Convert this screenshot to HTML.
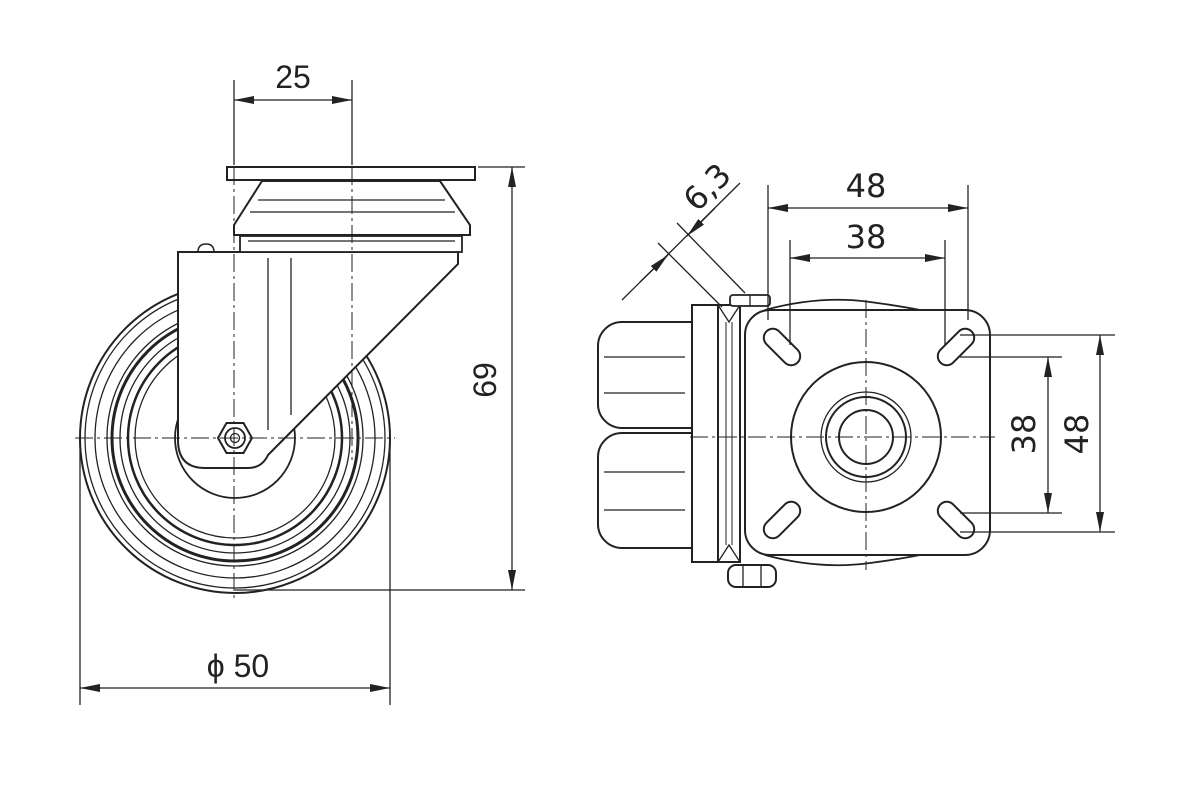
<!DOCTYPE html>
<html><head><meta charset="utf-8"><style>
html,body{margin:0;padding:0;background:#fff;width:1200px;height:800px;overflow:hidden}
svg text{font-family:"DejaVu Sans","Liberation Sans",sans-serif;font-size:32px;fill:#222}
</style></head><body>
<svg width="1200" height="800" viewBox="0 0 1200 800" xmlns="http://www.w3.org/2000/svg">
<defs>
<marker id="a" viewBox="0 0 20 8" refX="20" refY="4" markerWidth="20" markerHeight="8" markerUnits="userSpaceOnUse" orient="auto-start-reverse"><path d="M0,0 L20,4 L0,8 Z" fill="#222"/></marker>
</defs>
<g fill="none" stroke="#222" stroke-width="1.3">
<g stroke-width="2">
<circle cx="235" cy="438" r="155"/>
<circle cx="235" cy="438" r="123" stroke-width="3"/>
<circle cx="235" cy="438" r="107" stroke-width="2.5"/>
</g>
<circle cx="235" cy="438" r="150"/>
<circle cx="235" cy="438" r="140"/>
<circle cx="235" cy="438" r="128"/>
<circle cx="235" cy="438" r="115"/>
<circle cx="235" cy="438" r="100"/>
<circle cx="235" cy="438" r="60" stroke-width="1.8"/>
<path d="M178,252 L458,252 L458,264 L268,455 Q262,468 248,468 L205,468 Q178,468 178,440 Z" fill="#fff" stroke-width="2"/>
<path d="M198,252 q0,-8 8,-8 q8,0 8,8" stroke-width="1.5"/>
<line x1="268" y1="258" x2="268" y2="430"/>
<line x1="291" y1="258" x2="291" y2="415"/>
<rect x="227" y="167" width="248" height="13" fill="#fff" stroke-width="2"/>
<path d="M262,181 L440,181 L470,225 L470,235 L234,235 L234,225 Z" fill="#fff" stroke-width="2"/>
<line x1="258" y1="200" x2="445" y2="200"/>
<line x1="250" y1="212" x2="455" y2="212"/>
<rect x="240" y="236" width="222" height="16" fill="#fff" stroke-width="1.8"/>
<line x1="248" y1="241" x2="455" y2="241"/>
<polygon points="218,438 226.5,423 243.5,423 252,438 243.5,453 226.5,453" fill="#fff" stroke-width="2"/>
<circle cx="235" cy="438" r="10" stroke-width="1.8"/>
<circle cx="235" cy="438" r="4.5"/>
<g stroke-dasharray="18,4,3,4" stroke-width="1">
<line x1="234" y1="80" x2="234" y2="600"/>
<line x1="352" y1="80" x2="352" y2="460"/>
<line x1="75" y1="438" x2="395" y2="438"/>
</g>
<line x1="234" y1="80" x2="234" y2="165"/>
<line x1="352" y1="80" x2="352" y2="165"/>
<line x1="234" y1="100" x2="352" y2="100" marker-start="url(#a)" marker-end="url(#a)"/>
<line x1="478" y1="167" x2="525" y2="167"/>
<line x1="235" y1="590" x2="525" y2="590"/>
<line x1="512" y1="167" x2="512" y2="590" marker-start="url(#a)" marker-end="url(#a)"/>
<line x1="80" y1="440" x2="80" y2="705"/>
<line x1="390" y1="440" x2="390" y2="705"/>
<line x1="80" y1="688" x2="390" y2="688" marker-start="url(#a)" marker-end="url(#a)"/>

<path d="M765,310 Q820,295 870,302 Q900,306 920,310" stroke-width="1.8"/>
<path d="M765,555 Q820,570 870,563 Q900,559 920,555" stroke-width="1.8"/>
<rect x="745" y="310" width="245" height="245" rx="25" fill="#fff" stroke-width="2"/>
<rect x="598" y="322" width="120" height="106" rx="24" stroke-width="2"/>
<rect x="598" y="433" width="120" height="115" rx="24" stroke-width="2"/>
<g stroke-width="1.3">
<line x1="604" y1="357" x2="685" y2="357"/><line x1="604" y1="393" x2="685" y2="393"/>
<line x1="604" y1="472" x2="685" y2="472"/><line x1="604" y1="510" x2="685" y2="510"/>
</g>
<rect x="692" y="305" width="26" height="257" fill="#fff" stroke-width="2"/>
<rect x="718" y="305" width="22" height="257" fill="#fff" stroke-width="2"/>
<line x1="726" y1="322" x2="726" y2="545" stroke-width="1"/>
<line x1="732" y1="322" x2="732" y2="545" stroke-width="1"/>
<path d="M718,305 L729,322 L740,305 M718,562 L729,545 L740,562"/>
<rect x="730" y="295" width="40" height="11" rx="3" fill="#fff" stroke-width="1.8"/>
<line x1="750" y1="295" x2="750" y2="306"/>
<rect x="728" y="565" width="48" height="22" rx="8" fill="#fff" stroke-width="2"/>
<line x1="743" y1="565" x2="743" y2="587"/><line x1="761" y1="565" x2="761" y2="587"/>
<g stroke-width="2" fill="#fff">
<rect x="760" y="338" width="44" height="18" rx="9" transform="rotate(45 782 347)"/>
<rect x="934" y="338" width="44" height="18" rx="9" transform="rotate(-45 956 347)"/>
<rect x="760" y="511" width="44" height="18" rx="9" transform="rotate(-45 782 520)"/>
<rect x="934" y="511" width="44" height="18" rx="9" transform="rotate(45 956 520)"/>
</g>
<circle cx="866" cy="437" r="75" stroke-width="2"/>
<circle cx="866" cy="437" r="45"/>
<circle cx="866" cy="437" r="40" stroke-width="2"/>
<circle cx="866" cy="437" r="27" stroke-width="2"/>
<g stroke-dasharray="18,4,3,4" stroke-width="1">
<line x1="690" y1="437" x2="995" y2="437"/>
<line x1="866" y1="300" x2="866" y2="570"/>
</g>
<line x1="768" y1="185" x2="768" y2="320"/>
<line x1="968" y1="185" x2="968" y2="320"/>
<line x1="768" y1="208" x2="968" y2="208" marker-start="url(#a)" marker-end="url(#a)"/>
<line x1="790" y1="240" x2="790" y2="345"/>
<line x1="945" y1="240" x2="945" y2="345"/>
<line x1="790" y1="258" x2="945" y2="258" marker-start="url(#a)" marker-end="url(#a)"/>
<line x1="960" y1="335" x2="1115" y2="335"/>
<line x1="960" y1="532" x2="1115" y2="532"/>
<line x1="1100" y1="335" x2="1100" y2="532" marker-start="url(#a)" marker-end="url(#a)"/>
<line x1="960" y1="357" x2="1062" y2="357"/>
<line x1="960" y1="513" x2="1062" y2="513"/>
<line x1="1048" y1="357" x2="1048" y2="513" marker-start="url(#a)" marker-end="url(#a)"/>
<line x1="658" y1="243" x2="722" y2="307"/>
<line x1="677" y1="223" x2="745" y2="293"/>
<line x1="622" y1="300" x2="740" y2="183"/>
<line x1="640" y1="282" x2="668" y2="255" marker-end="url(#a)"/>
<line x1="715" y1="208" x2="687" y2="236" marker-end="url(#a)"/>
</g>
<text x="293" y="88" text-anchor="middle" style="font-family:'Liberation Sans',sans-serif">25</text>
<text x="238" y="677" text-anchor="middle" style="font-family:'Liberation Sans',sans-serif">ϕ 50</text>
<text transform="translate(496,380) rotate(-90)" text-anchor="middle" style="font-family:'Liberation Sans',sans-serif">69</text>
<text x="866" y="197" text-anchor="middle">48</text>
<text x="866" y="248" text-anchor="middle">38</text>
<text transform="translate(1088,434) rotate(-90)" text-anchor="middle">48</text>
<text transform="translate(1035,434) rotate(-90)" text-anchor="middle">38</text>
<text transform="translate(715,195) rotate(-45)" text-anchor="middle">6,3</text>
</svg>
</body></html>
